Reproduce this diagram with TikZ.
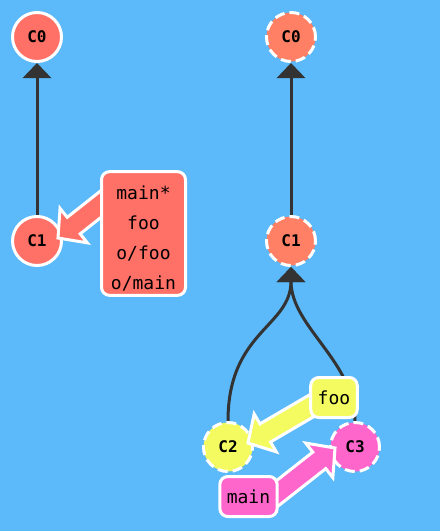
\documentclass[tikz,border=0pt]{standalone}
\usepackage{fontspec}
\setmonofont{DejaVu Sans Mono}
\usetikzlibrary{arrows.meta,calc,backgrounds}
\definecolor{bgblue}{RGB}{92,185,250}
\definecolor{leftred}{RGB}{255,112,102}
\definecolor{coral}{RGB}{255,128,100}
\definecolor{lemon}{RGB}{244,251,96}
\definecolor{pink}{RGB}{255,102,204}
\definecolor{ink}{RGB}{51,51,51}
\tikzset{
  commit/.style={draw=white, circle, line width=1.5pt, minimum size=24.5pt, inner sep=0pt,
    font=\ttfamily\bfseries\fontsize{8}{8}\selectfont},
  ghost/.style={commit, dash pattern=on 5pt off 2.5pt},
  branch/.style={draw=white, line width=1.5pt, rounded corners=4pt, align=center,
    inner xsep=3.5pt, inner ysep=2pt, minimum height=20pt,
    font=\ttfamily\fontsize{9}{15}\selectfont},
  parent/.style={draw=ink, line width=1.5pt, -{Triangle[width=14pt,length=7.5pt]}},
}
% fat arrow from a branch label to a commit
\newcommand{\fatarrow}[3]{%
  \coordinate (fa) at ($(#3)!10pt!(#2)$);
  \filldraw[fill=#1, draw=white, line width=1.5pt]
    ($(#2)!5.25pt!90:(#3)$) -- ($(fa)!5.25pt!90:(#3)$) -- ($(fa)!11pt!90:(#3)$) -- (#3)
    -- ($(fa)!11pt!-90:(#3)$) -- ($(fa)!5.25pt!-90:(#3)$) -- ($(#2)!5.25pt!-90:(#3)$) -- cycle;}
\begin{document}
\begin{tikzpicture}[x=0.5pt,y=-0.5pt]
\useasboundingbox (0,0) rectangle (440,531);
% commits
\node[commit, fill=leftred] (l0) at (37,37) {C0};
\node[commit, fill=leftred] (l1) at (37,241) {C1};
\node[ghost, fill=coral] (r0) at (291,37) {C0};
\node[ghost, fill=coral] (r1) at (291,241) {C1};
\node[ghost, fill=lemon] (r2) at (228,447) {C2};
\node[ghost, fill=pink] (r3) at (355,447) {C3};
% parent links
\begin{scope}[on background layer]
  \fill[bgblue] (0,0) rectangle (440,531);
  \draw[parent] (l1) -- (l0);
  \draw[parent] (r1) -- (r0);
  \draw[parent] (r2.north) .. controls +(0,-90) and +(0,60) .. (r1.south);
  \draw[parent] (r3.north) .. controls +(0,-60) and +(0,60) .. (r1.south);
\end{scope}
% branches
\coordinate (s1) at (125,185);
\coordinate (t1) at ([shift={(21,-3)}]l1);
\fatarrow{leftred}{s1}{t1}
\node[branch, fill=leftred, minimum width=42pt, minimum height=60pt] (lb) at (143.5,233.5) {\rule{0pt}{12pt}main*\\foo\\o/foo\\o/main};
\coordinate (s2) at (330,395);
\coordinate (t2) at ([shift={(20,-4)}]r2);
\fatarrow{lemon}{s2}{t2}
\node[branch, fill=lemon] (foo) at (334,397.5) {foo};
\coordinate (s3) at (265,503);
\coordinate (t3) at ([shift={(-20,1)}]r3);
\fatarrow{pink}{s3}{t3}
\node[branch, fill=pink] (main) at (248.5,496.5) {main};
\end{tikzpicture}
\end{document}
